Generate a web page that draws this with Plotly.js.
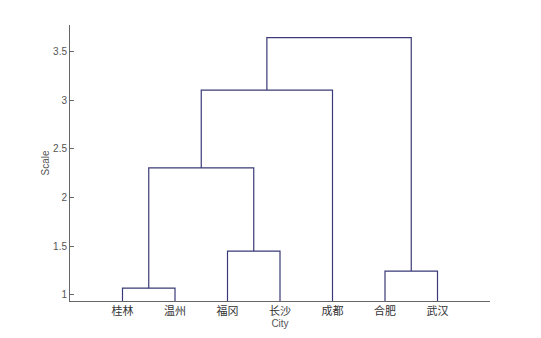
<!DOCTYPE html>
<html>
<head>
<meta charset="utf-8">
<script src="https://cdn.plot.ly/plotly-3.0.1.min.js"></script>
<style>html,body{margin:0;padding:0;background:#fff;}#chart{width:541px;height:338px;}</style>
</head>
<body>
<div id="chart"></div>
<script>
// Leaf labels in dendrogram order
const leaves = ['桂林', '温州', '福冈', '长沙', '成都', '合肥', '武汉'];
// Linkage: node ids 0..6 are leaves; new nodes numbered 7, 8, ...
const linkLeft  = [0, 2, 5, 7, 10, 11];
const linkRight = [1, 3, 6, 8, 4, 9];
const linkHeight = [1.07, 1.45, 1.245, 2.305, 3.105, 3.645];
const yTicks = [1, 1.5, 2, 2.5, 3, 3.5];

// Compute node positions from the leaf order
const nodeX = leaves.map((_, i) => i + 1);
const nodeY = leaves.map(() => 0.938);
const xs = [], ys = [];
for (let k = 0; k < linkLeft.length; k++) {
  const a = linkLeft[k], b = linkRight[k], h = linkHeight[k];
  xs.push(nodeX[a], nodeX[a], nodeX[b], nodeX[b], null);
  ys.push(nodeY[a], h, h, nodeY[b], null);
  nodeX.push((nodeX[a] + nodeX[b]) / 2);
  nodeY.push(h);
}

const trace = {
  x: xs, y: ys, mode: 'lines', type: 'scatter',
  line: {color: '#3a3a78', width: 1.2},
  hoverinfo: 'skip', showlegend: false
};

const layout = {
  width: 541, height: 338,
  margin: {l: 70, r: 51, t: 25, b: 37},
  paper_bgcolor: '#fff', plot_bgcolor: '#fff',
  font: {family: 'Liberation Sans, Arial, sans-serif', color: '#444', size: 10},
  xaxis: {
    range: [0, 8], tickvals: leaves.map((_, i) => i + 1), ticktext: leaves,
    showline: true, linecolor: '#666', linewidth: 1, zeroline: false, showgrid: false,
    ticks: '', tickfont: {family: 'Noto Sans CJK SC', size: 11, color: '#333'},
    title: {text: 'City', font: {size: 10, color: '#555'}, standoff: 2}
  },
  yaxis: {
    range: [0.938, 3.774], tickvals: yTicks, ticktext: yTicks.map(String),
    showline: true, linecolor: '#666', linewidth: 1, zeroline: false, showgrid: false,
    ticks: 'inside', ticklen: 4, tickcolor: '#666',
    tickfont: {size: 10, color: '#555'},
    title: {text: 'Scale', font: {size: 10, color: '#555'}, standoff: 1}
  }
};

Plotly.newPlot('chart', [trace], layout, {displayModeBar: false, staticPlot: true});
</script>
</body>
</html>
